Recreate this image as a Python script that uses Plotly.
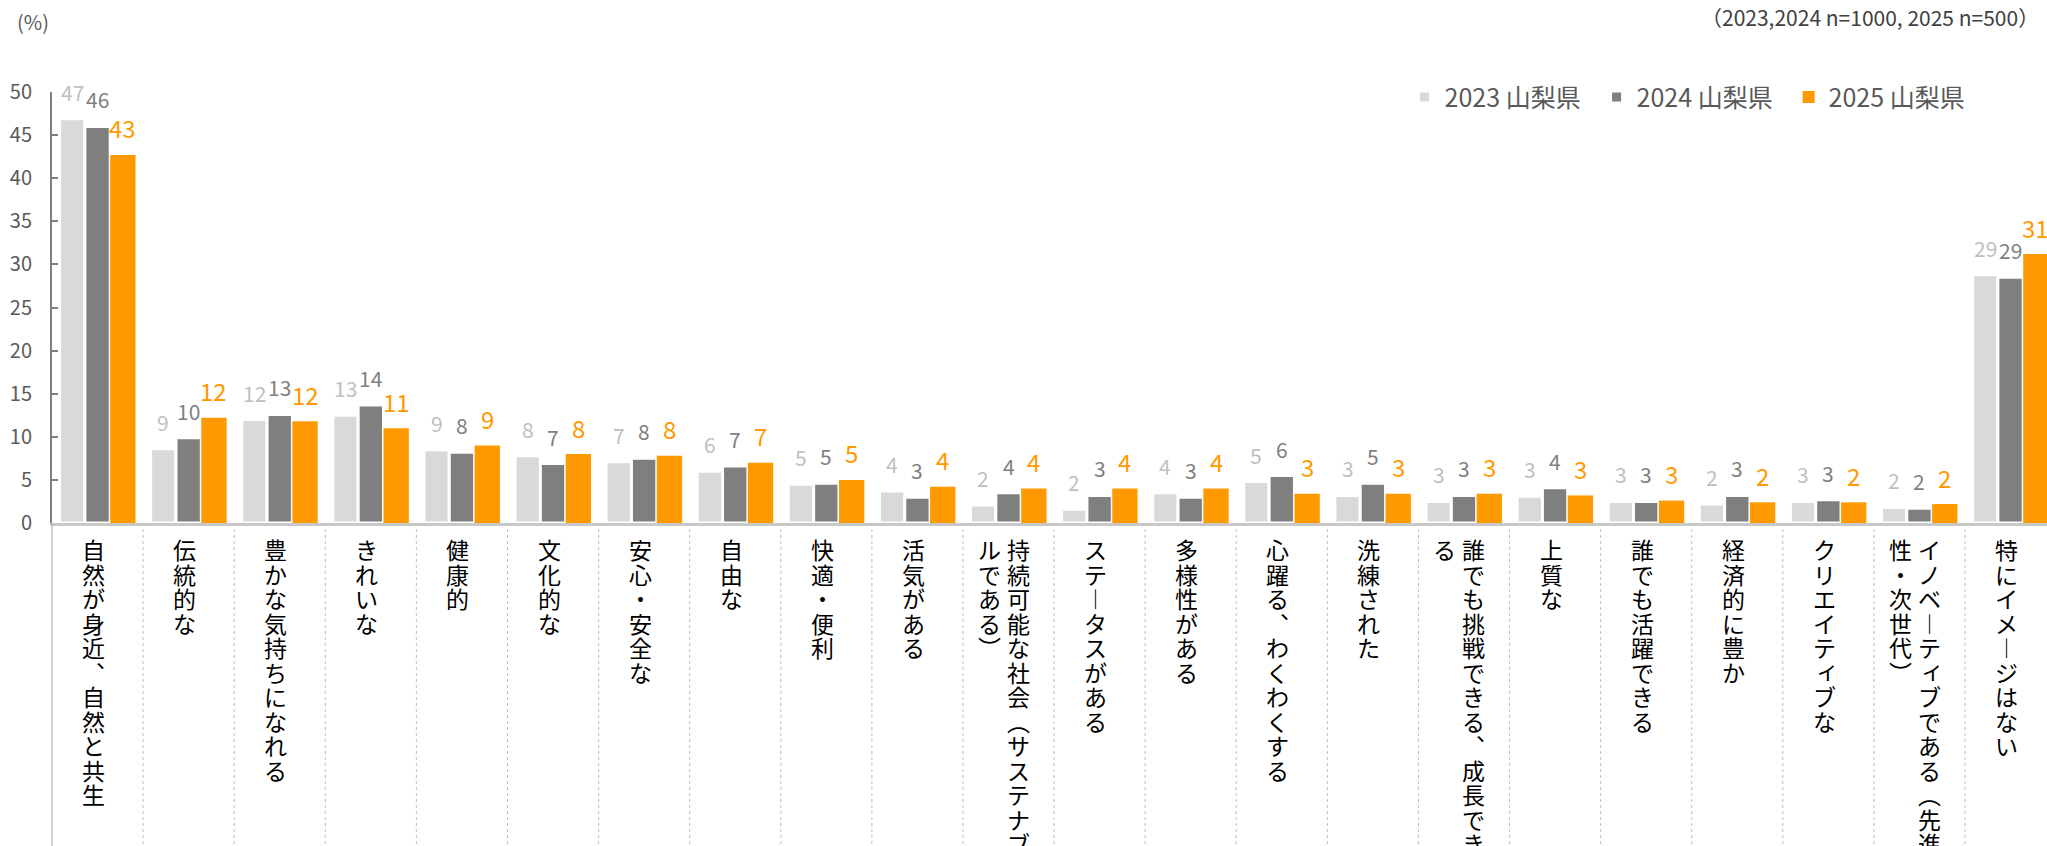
import math
import plotly.graph_objects as go

# ---- data -------------------------------------------------------------
categories = [
    "自然が身近、自然と共生", "伝統的な", "豊かな気持ちになれる", "きれいな", "健康的",
    "文化的な", "安心・安全な", "自由な", "快適・便利", "活気がある",
    "持続可能な社会（サステナブルである）", "ステータスがある", "多様性がある",
    "心躍る、わくわくする", "洗練された", "誰でも挑戦できる、成長できる", "上質な",
    "誰でも活躍できる", "経済的に豊か", "クリエイティブな",
    "イノベーティブである（先進性・次世代）", "特にイメージはない",
]
series_names = ["2023 山梨県", "2024 山梨県", "2025 山梨県"]
v2023 = [46.9, 8.6, 12.0, 12.5, 8.5, 7.8, 7.1, 6.0, 4.5, 3.7, 2.1, 1.6, 3.5, 4.8, 3.2, 2.5, 3.1, 2.5, 2.2, 2.5, 1.8, 28.8]
v2024 = [46.0, 9.9, 12.6, 13.7, 8.2, 6.9, 7.5, 6.6, 4.6, 3.0, 3.5, 3.2, 3.0, 5.5, 4.6, 3.2, 4.1, 2.5, 3.2, 2.7, 1.7, 28.5]
v2025 = [42.7, 12.2, 11.8, 11.0, 9.0, 8.0, 7.8, 7.0, 5.0, 4.2, 4.0, 4.0, 4.0, 3.4, 3.4, 3.4, 3.2, 2.6, 2.4, 2.4, 2.2, 31.2]
y_tick_values = [0, 5, 10, 15, 20, 25, 30, 35, 40, 45, 50]
unit_label = "(%)"
sample_note = "（2023,2024 n=1000, 2025 n=500）"

# ---- style ------------------------------------------------------------
FONT = "Noto Sans CJK JP, Noto Sans, sans-serif"
bar_colors = ["#d9d9d9", "#7f7f7f", "#ff9900"]
bar_line_widths = [3, 3, 0]
value_colors = ["#bfbfbf", "#7f7f7f", "#ff9900"]
value_sizes = [21, 21, 24]
X_RANGE = [-0.5, 21.4]
BARGAP = 0.166

series = [v2023, v2024, v2025]
xs = list(range(len(categories)))

fig = go.Figure()
for name, vals, col, lw in zip(series_names, series, bar_colors, bar_line_widths):
    fig.add_trace(go.Bar(
        x=xs, y=vals, name=name,
        marker=dict(color=col, line=dict(color="white", width=lw)),
        hoverinfo="skip",
    ))

# value labels above each bar (rounded half up)
slot = (1 - BARGAP) / len(series)
for k, vals in enumerate(series):
    off = (k - (len(series) - 1) / 2) * slot
    for i, v in enumerate(vals):
        fig.add_annotation(
            x=i + off, y=v, xref="x", yref="y",
            text=str(math.floor(v + 0.5)), showarrow=False,
            yshift=27, xanchor="center", yanchor="middle",
            font=dict(family=FONT, size=value_sizes[k], color=value_colors[k]),
        )

# category labels set vertically, one glyph per row, wrapping into a second column
VERTICAL_FORMS = {"（": "︵", "）": "︶", "、": "︑", "ー": "︱"}
SMALL_KANA = set("ィァゥェォッャュョぃぁぅぇぉっゃゅょ")
COL_LEN = 13
PITCH = 24.5
for i, cat in enumerate(categories):
    cols = [cat[j:j + COL_LEN] for j in range(0, len(cat), COL_LEN)]
    col_shift = [-4] if len(cols) == 1 else [10, -19]
    for col, dx in zip(cols, col_shift):
        for r, ch in enumerate(col):
            sx, sy = (3, 3) if ch in SMALL_KANA else (0, 0)
            fig.add_annotation(
                x=i, xref="x", y=0, yref="paper",
                text=VERTICAL_FORMS.get(ch, ch), showarrow=False,
                xshift=dx + sx, yshift=-(26 + r * PITCH) + sy,
                xanchor="center", yanchor="middle",
                font=dict(family=FONT, size=23, color="#000000"),
            )

# separators between categories and the left rule below the axis
span = X_RANGE[1] - X_RANGE[0]
shapes = [dict(type="line", xref="paper", yref="paper", x0=0, x1=0, y0=0, y1=-1,
               line=dict(color="#bfbfbf", width=1.5))]
for i in range(len(categories) - 1):
    px = (i + 0.5 - X_RANGE[0]) / span
    shapes.append(dict(type="line", xref="paper", yref="paper", x0=px, x1=px, y0=0, y1=-1,
                       line=dict(color="#bfbfbf", width=1, dash="dot")))

# header texts
fig.add_annotation(x=-0.0185, y=1.164, xref="paper", yref="paper", text=unit_label,
                   showarrow=False, xanchor="left", yanchor="middle",
                   font=dict(family=FONT, size=20, color="#595959"))
fig.add_annotation(x=0.997, y=1.173, xref="paper", yref="paper", text=sample_note,
                   showarrow=False, xanchor="right", yanchor="middle",
                   font=dict(family=FONT, size=21, color="#404040"))

fig.update_layout(
    width=2047, height=846,
    margin=dict(l=52, r=0, t=92, b=323, pad=0),
    paper_bgcolor="white", plot_bgcolor="white",
    barmode="group", bargap=BARGAP, bargroupgap=0,
    shapes=shapes,
    showlegend=True,
    legend=dict(
        orientation="h", x=0.678, y=0.988, xanchor="left", yanchor="middle",
        font=dict(family=FONT, size=25, color="#595959"),
        entrywidth=147, entrywidthmode="pixels",
        bgcolor="rgba(0,0,0,0)", traceorder="normal",
    ),
    font=dict(family=FONT),
)
fig.update_xaxes(
    range=X_RANGE, showticklabels=False, ticks="", showgrid=False, zeroline=False,
    showline=True, linecolor="#c8c8c8", linewidth=2.5, fixedrange=True,
)
fig.update_yaxes(
    range=[0, 50], tickvals=y_tick_values, ticks="inside", ticklen=6, tickwidth=2,
    tickcolor="#808080", showline=True, linecolor="#808080", linewidth=2,
    showgrid=False, zeroline=False, ticklabelstandoff=14,
    tickfont=dict(family=FONT, size=20, color="#595959"), fixedrange=True,
)

fig.write_html("out.html", config={"displayModeBar": False})
